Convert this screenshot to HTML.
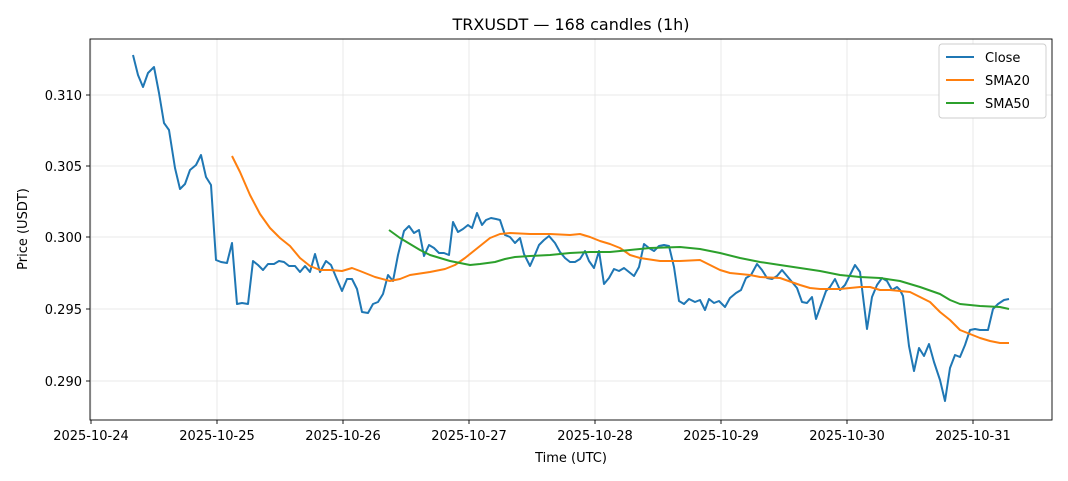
<!DOCTYPE html>
<html><head><meta charset="utf-8"><style>
html,body{margin:0;padding:0;background:#fff;}
svg{display:block;font-family:"DejaVu Sans","Liberation Sans",sans-serif;}
</style></head><body>
<svg width="1068" height="481" viewBox="0 0 1068 481" xmlns="http://www.w3.org/2000/svg">
<rect width="1068" height="481" fill="#fff"/>
<text x="571" y="30" font-size="16" text-anchor="middle" fill="#000">TRXUSDT — 168 candles (1h)</text>
<g stroke="#e3e3e3" stroke-width="0.8">
<line x1="91" y1="39" x2="91" y2="420"/><line x1="217" y1="39" x2="217" y2="420"/><line x1="343" y1="39" x2="343" y2="420"/><line x1="469" y1="39" x2="469" y2="420"/><line x1="595" y1="39" x2="595" y2="420"/><line x1="721" y1="39" x2="721" y2="420"/><line x1="847" y1="39" x2="847" y2="420"/><line x1="973" y1="39" x2="973" y2="420"/>
<line x1="90" y1="95" x2="1052" y2="95"/><line x1="90" y1="166" x2="1052" y2="166"/><line x1="90" y1="237" x2="1052" y2="237"/><line x1="90" y1="309" x2="1052" y2="309"/><line x1="90" y1="381" x2="1052" y2="381"/>
</g>
<g fill="none" stroke-width="2" stroke-linejoin="round">
<polyline stroke="#1f77b4" points="133,55 138,75 143,87 148,73 154,67 159,93 164,123 169,130 175,168 180,189 185,184 190,170 196,165 201,155 206,177 211,185 216,260 221,262 227,263 232,243 237,304 242,303 248,304 253,261 258,265 263,270 268,264 274,264 279,261 284,262 289,266 295,266 300,272 305,266 310,272 315,254 320,272 326,261 331,265 336,277 342,291 347,279 352,279 357,289 362,312 368,313 373,304 378,302 383,294 388,275 393,281 398,255 404,231 409,226 414,233 419,230 424,256 429,245 434,248 439,253 444,253 449,255 453,222 458,232 463,229 468,225 472,228 477,213 482,225 486,220 491,218 496,219 500,220 505,235 510,237 515,243 520,238 524,254 530,266 534,257 539,245 544,240 549,236 555,243 560,252 565,258 570,262 575,262 580,259 585,251 589,261 594,268 599,251 604,284 609,278 614,269 619,271 624,268 629,272 634,276 639,267 644,244 649,248 654,251 659,246 664,245 669,246 674,267 679,301 684,304 689,299 695,302 700,300 705,310 709,299 714,303 719,301 725,307 730,298 736,293 741,290 746,278 751,275 757,264 762,270 767,278 772,279 777,276 782,270 787,276 792,282 797,288 802,302 807,303 812,297 816,319 821,305 826,291 830,287 835,279 840,290 845,285 850,275 855,265 860,272 867,329 872,297 877,285 882,278 887,281 892,290 897,287 900,290 903,296 909,346 914,371 919,348 924,356 929,344 934,362 940,380 945,401 950,368 955,355 960,357 965,345 970,330 975,329 980,330 988,330 993,309 998,304 1004,300 1009,299"/>
<polyline stroke="#ff7f0e" points="232,156 240,172 250,195 260,214 270,228 280,238 290,246 300,258 310,266 320,270 330,270 342,271 352,268 360,271 375,277 390,281 400,279 410,275 430,272 445,269 455,265 465,258 480,246 490,238 500,234 510,233 530,234 550,234 570,235 580,234 590,237 600,241 610,244 620,248 630,255 640,258 660,261 680,261 700,260 710,265 720,270 730,273 750,275 760,277 780,278 800,285 810,288 820,289 840,289 860,287 870,287 880,290 890,290 900,291 910,292 920,297 930,302 940,312 950,320 960,330 970,334 980,338 990,341 1000,343 1009,343"/>
<polyline stroke="#2ca02c" points="389,230 400,238 410,244 420,250 430,255 440,258 450,261 460,263 470,265 480,264 495,262 505,259 515,257 530,256 550,255 570,253 590,252 610,252 630,250 650,248 680,247 700,249 720,253 740,258 760,262 780,265 800,268 820,271 840,275 860,277 880,278 900,281 920,287 940,294 950,300 960,304 980,306 1000,307 1009,309"/>
</g>
<rect x="90" y="39" width="962" height="381" fill="none" stroke="#000" stroke-width="0.9"/>
<g stroke="#000" stroke-width="0.9">
<line x1="91" y1="420" x2="91" y2="424"/><line x1="217" y1="420" x2="217" y2="424"/><line x1="343" y1="420" x2="343" y2="424"/><line x1="469" y1="420" x2="469" y2="424"/><line x1="595" y1="420" x2="595" y2="424"/><line x1="721" y1="420" x2="721" y2="424"/><line x1="847" y1="420" x2="847" y2="424"/><line x1="973" y1="420" x2="973" y2="424"/>
<line x1="86" y1="95" x2="90" y2="95"/><line x1="86" y1="166" x2="90" y2="166"/><line x1="86" y1="237" x2="90" y2="237"/><line x1="86" y1="309" x2="90" y2="309"/><line x1="86" y1="381" x2="90" y2="381"/>
</g>
<g font-size="13" fill="#000" text-anchor="middle">
<text x="91" y="440">2025-10-24</text><text x="217" y="440">2025-10-25</text><text x="343" y="440">2025-10-26</text><text x="469" y="440">2025-10-27</text><text x="595" y="440">2025-10-28</text><text x="721" y="440">2025-10-29</text><text x="847" y="440">2025-10-30</text><text x="973" y="440">2025-10-31</text>
<text x="571" y="462">Time (UTC)</text>
</g>
<g font-size="13" fill="#000" text-anchor="end">
<text x="82" y="100">0.310</text><text x="82" y="171">0.305</text><text x="82" y="242">0.300</text><text x="82" y="314">0.295</text><text x="82" y="386">0.290</text>
</g>
<text transform="translate(27,229) rotate(-90)" font-size="13" text-anchor="middle">Price (USDT)</text>
<rect x="939" y="44" width="107" height="74" rx="3" fill="#fff" stroke="#ccc" stroke-width="0.9"/>
<g stroke-width="2"><line x1="946" y1="57" x2="974" y2="57" stroke="#1f77b4"/><line x1="946" y1="80" x2="974" y2="80" stroke="#ff7f0e"/><line x1="946" y1="103" x2="974" y2="103" stroke="#2ca02c"/></g>
<g font-size="13" fill="#000"><text x="985" y="62">Close</text><text x="985" y="85">SMA20</text><text x="985" y="108">SMA50</text></g>
</svg>
</body></html>
